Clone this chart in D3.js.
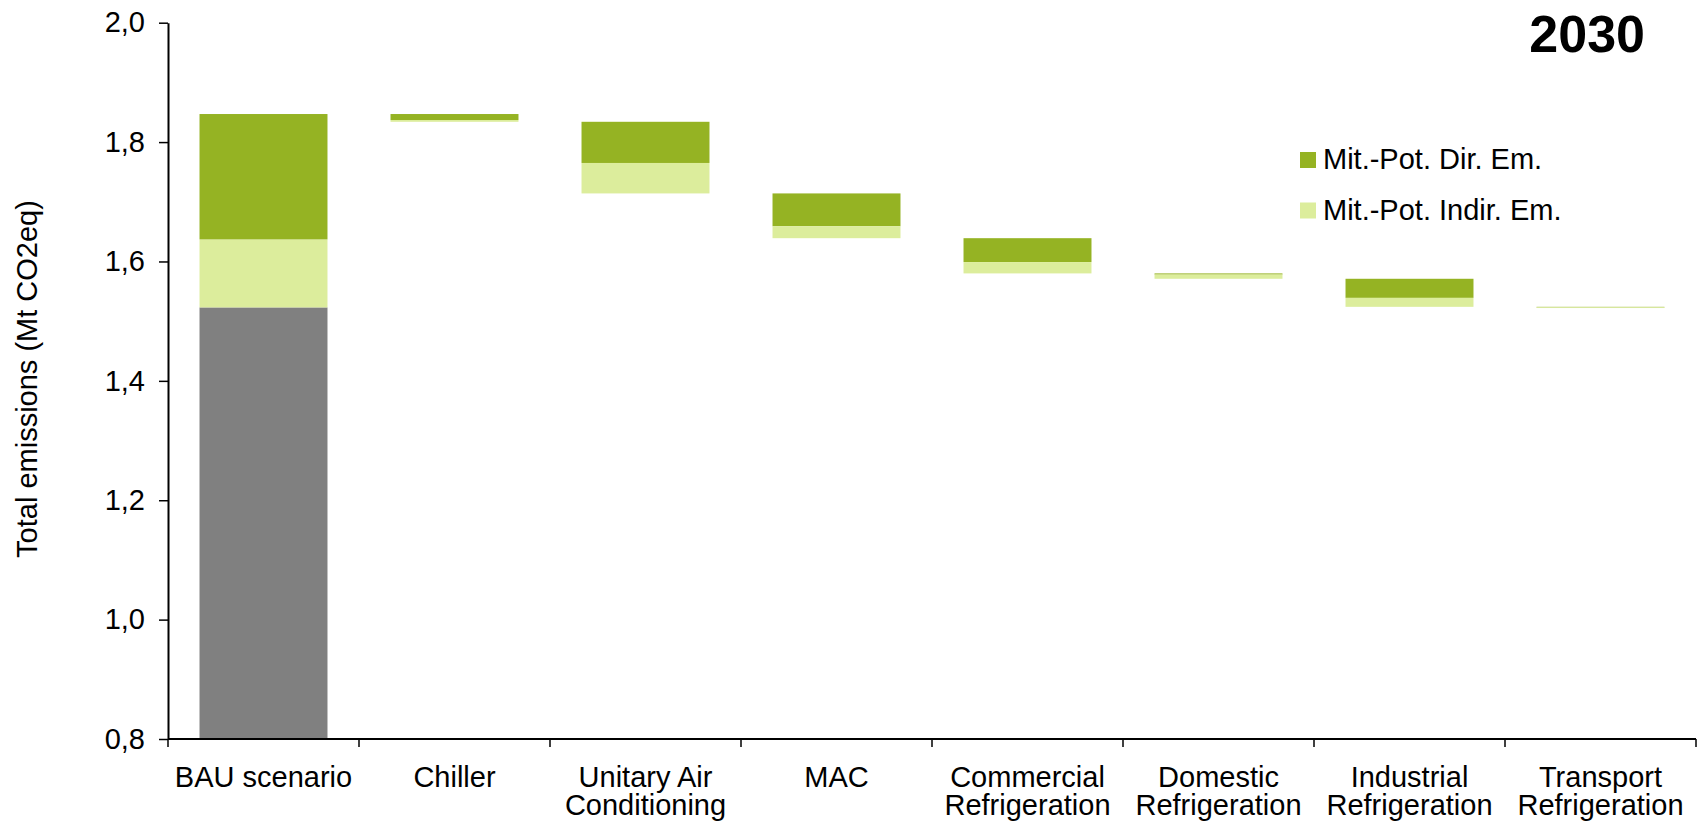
<!DOCTYPE html>
<head>
  <meta charset="UTF-8">
  <style>
    *{
      margin: 0px;
    }
    body{
      background-color: white;
    }
    svg{
      position: absolute;
      font-family: "Liberation Sans", Arial, sans-serif;
      font-size: 29px;
    }
  </style>
  <script src="https://d3js.org/d3.v7.min.js"></script>
</head>
<body>
  <svg id="chart" width="1697" height="824"></svg>

  <script>
    // categories along the x axis (labels are split on "\n")
    var categories = ["BAU scenario", "Chiller", "Unitary Air\nConditioning", "MAC",
      "Commercial\nRefrigeration", "Domestic\nRefrigeration", "Industrial\nRefrigeration",
      "Transport\nRefrigeration"];

    // BAU scenario bar: remaining emissions, indirect and direct parts (Mt CO2eq)
    var bauRemaining = 1.523;
    var bauIndirect = 0.114;
    var bauDirect = 0.210;

    // mitigation potential per sector (Chiller ... Transport Refrigeration)
    var mitDirect = [0.010, 0.069, 0.055, 0.040, 0.002, 0.032, 0.001];
    var mitIndirect = [0.003, 0.051, 0.020, 0.019, 0.007, 0.015, 0.001];

    var yTicks = [0.8, 1.0, 1.2, 1.4, 1.6, 1.8, 2.0];
    var legendLabels = ["Mit.-Pot. Dir. Em.", "Mit.-Pot. Indir. Em."];
    var title = "2030";
    var yTitle = "Total emissions (Mt CO2eq)";

    var colDirect = "#95b323",
      colIndirect = "#dced9c",
      colRemain = "#808080";

    var svg = d3.select("#chart");

    var pLeft = 168, pRight = 1696, pTop = 22.7, pBottom = 739;

    var x = d3.scaleBand()
      .domain(categories)
      .range([pLeft, pRight])
      .padding(0);

    var y = d3.scaleLinear()
      .domain([0.8, 2.0])
      .range([pBottom, pTop]);

    var barW = x.bandwidth() * 0.67;
    var barX = d => x(d) + (x.bandwidth() - barW) / 2;

    // build the segments of the waterfall
    var segs = [];
    var bauTop = bauRemaining + bauIndirect + bauDirect;
    segs.push({cat: categories[0], y0: 0.8, y1: bauRemaining, fill: colRemain});
    segs.push({cat: categories[0], y0: bauRemaining, y1: bauRemaining + bauIndirect, fill: colIndirect});
    segs.push({cat: categories[0], y0: bauRemaining + bauIndirect, y1: bauTop, fill: colDirect});

    var run = bauTop;
    mitDirect.forEach(function(d, i){
      var cat = categories[i + 1];
      segs.push({cat: cat, y0: run - d, y1: run, fill: colDirect});
      run -= d;
      segs.push({cat: cat, y0: run - mitIndirect[i], y1: run, fill: colIndirect});
      run -= mitIndirect[i];
    });

    svg.append("g")
      .selectAll("rect")
      .data(segs)
      .enter()
      .append("rect")
      .attr("x", d => barX(d.cat))
      .attr("width", barW)
      .attr("y", d => y(d.y1))
      .attr("height", d => y(d.y0) - y(d.y1))
      .attr("fill", d => d.fill);

    // y axis
    var fmt = d3.formatLocale({decimal: ",", thousands: ".", grouping: [3], currency: ["", ""]}).format(".1f");
    var yAxis = svg.append("g")
      .attr("transform", "translate(" + pLeft + ",0)")
      .call(d3.axisLeft(y).tickValues(yTicks).tickFormat(fmt).tickSize(9).tickSizeOuter(0).tickPadding(14));
    yAxis.select(".domain").attr("stroke", "black").attr("stroke-width", 2);
    yAxis.selectAll(".tick line").attr("stroke-width", 1.5);
    yAxis.selectAll(".tick text")
      .attr("font-size", "29px")
      .attr("font-family", "Liberation Sans, Arial, sans-serif")
      .attr("fill", "black");

    // x axis: ticks at category boundaries
    var xg = svg.append("g");
    xg.append("line")
      .attr("x1", pLeft).attr("x2", pRight)
      .attr("y1", pBottom).attr("y2", pBottom)
      .attr("stroke", "black").attr("stroke-width", 2);
    var bounds = categories.map(d => x(d)).concat([x(categories[categories.length - 1]) + x.bandwidth()]);
    xg.selectAll(".bt")
      .data(bounds)
      .enter()
      .append("line")
      .attr("x1", d => d).attr("x2", d => d)
      .attr("y1", pBottom).attr("y2", pBottom + 8)
      .attr("stroke", "black").attr("stroke-width", 1.5);

    xg.selectAll(".lab")
      .data(categories)
      .enter()
      .append("text")
      .attr("text-anchor", "middle")
      .attr("x", d => x(d) + x.bandwidth() / 2)
      .attr("y", pBottom + 48)
      .each(function(d){
        var t = d3.select(this);
        d.split("\n").forEach(function(line, i){
          t.append("tspan")
            .attr("x", x(d) + x.bandwidth() / 2)
            .attr("dy", i === 0 ? 0 : 28)
            .text(line);
        });
      });

    // y title
    svg.append("text")
      .attr("transform", "translate(37,379) rotate(-90)")
      .attr("text-anchor", "middle")
      .text(yTitle);

    // title
    svg.append("text")
      .attr("x", 1645)
      .attr("y", 52)
      .attr("text-anchor", "end")
      .attr("font-weight", "bold")
      .attr("font-size", "52px")
      .text(title);

    // legend
    var legend = svg.append("g").attr("transform", "translate(1300,152)");
    var lg = legend.selectAll("g")
      .data(legendLabels)
      .enter()
      .append("g")
      .attr("transform", (d, i) => "translate(0," + (i * 50.5) + ")");
    lg.append("rect")
      .attr("width", 16).attr("height", 16)
      .attr("fill", (d, i) => i === 0 ? colDirect : colIndirect);
    lg.append("text")
      .attr("x", 23)
      .attr("y", 17)
      .text(d => d);
  </script>
</body>
